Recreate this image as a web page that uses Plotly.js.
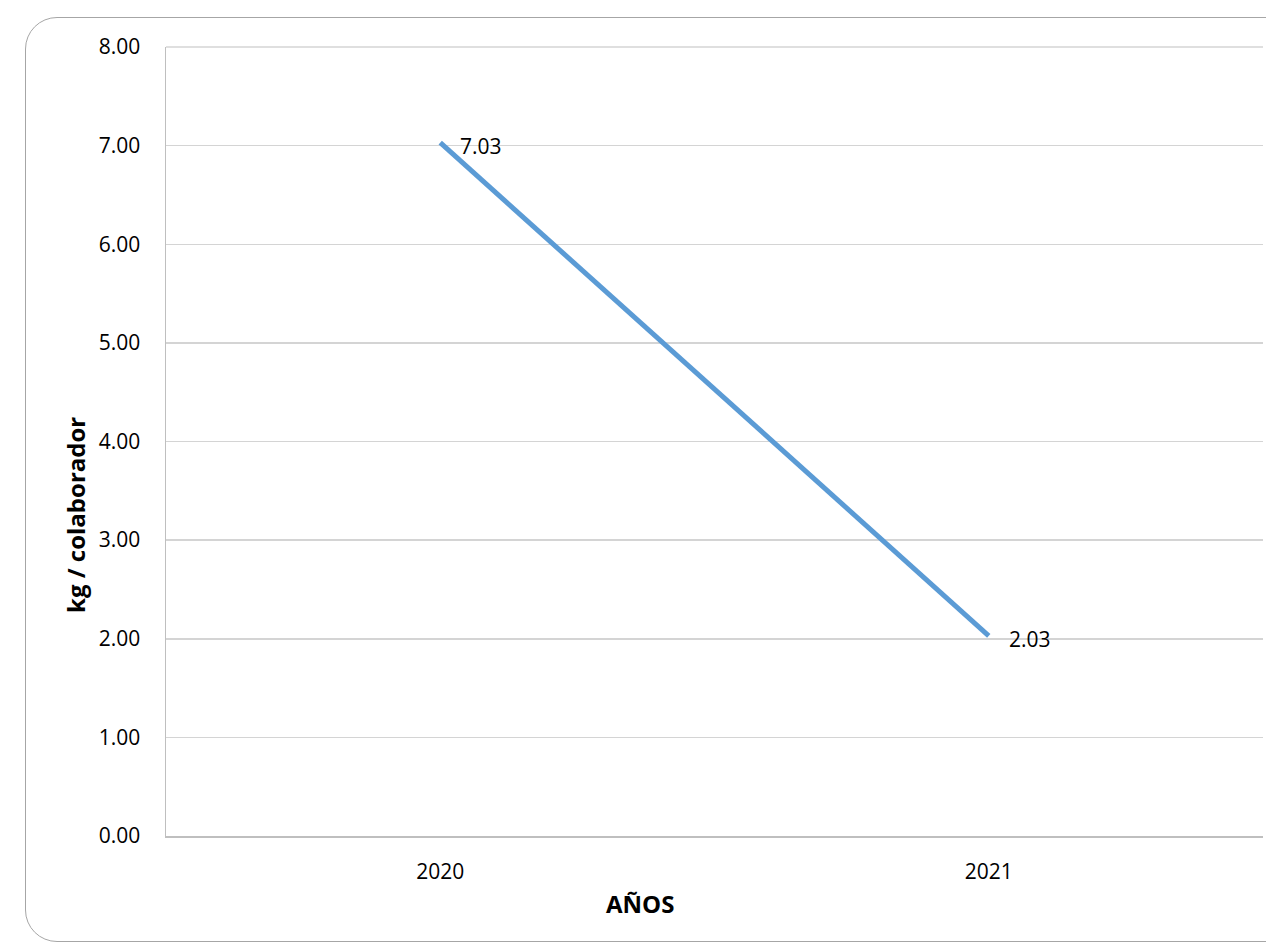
<!DOCTYPE html>
<html>
<head>
<meta charset="utf-8">
<script src="https://cdn.plot.ly/plotly-3.0.1.min.js"></script>
<style>
html,body{margin:0;padding:0;background:#fff;overflow:hidden;}
#frame{position:absolute;left:25px;top:17px;width:1300px;height:925px;border:1.5px solid #a6a6a6;border-radius:32px;box-sizing:border-box;}
#chart{position:absolute;left:0;top:0;width:1266px;height:944px;}
</style>
</head>
<body>
<div id="frame"></div>
<div id="chart"></div>
<script>
const years = ['2020', '2021'];
const kgPorColaborador = [7.03, 2.03];
const yTicks = [0, 1, 2, 3, 4, 5, 6, 7, 8];
const xTitle = 'AÑOS';
const yTitle = 'kg / colaborador';

const font = 'Open Sans, Liberation Sans, sans-serif';

const trace = {
  x: years,
  y: kgPorColaborador,
  type: 'scatter',
  mode: 'lines',
  line: {color: '#5b9bd5', width: 5},
  hoverinfo: 'skip'
};

const labelAnn = years.map((yr, i) => ({
  x: i, y: kgPorColaborador[i], xref: 'x', yref: 'y',
  text: kgPorColaborador[i].toFixed(2),
  showarrow: false, xanchor: 'left', yanchor: 'middle',
  xshift: 18, yshift: -3,
  font: {family: font, size: 21, color: '#000'}
}));

const layout = {
  width: 1266, height: 944,
  margin: {l: 166, r: 3, t: 47, b: 108},
  paper_bgcolor: 'rgba(0,0,0,0)',
  plot_bgcolor: 'rgba(0,0,0,0)',
  showlegend: false,
  xaxis: {
    type: 'category',
    range: [-0.5, 1.5],
    showgrid: false,
    showline: true, linecolor: '#bfbfbf', linewidth: 1.5,
    ticks: 'outside', ticklen: 16, tickcolor: 'rgba(0,0,0,0)',
    tickfont: {family: font, size: 21, color: '#000'},
    zeroline: false, fixedrange: true
  },
  yaxis: {
    range: [0, 8],
    tickvals: yTicks,
    ticktext: yTicks.map(v => v.toFixed(2)),
    showgrid: true, gridcolor: '#d4d4d4', gridwidth: 1.5,
    showline: true, linecolor: '#bfbfbf', linewidth: 1.5,
    ticks: 'outside', ticklen: 20, tickcolor: 'rgba(0,0,0,0)',
    tickfont: {family: font, size: 21, color: '#000'},
    zeroline: false, fixedrange: true
  },
  shapes: [
    {type: 'line', xref: 'paper', yref: 'paper', x0: 0, x1: 1, y0: 1, y1: 1,
     line: {color: '#d4d4d4', width: 1.5}}
  ],
  annotations: labelAnn.concat([
    {text: '<b>' + xTitle + '</b>', xref: 'paper', yref: 'paper',
     x: (640 - 166) / 1097, y: -(903 - 836) / 789, xanchor: 'center', yanchor: 'middle',
     showarrow: false, font: {family: font, size: 24, color: '#000'}},
    {text: '<b>' + yTitle + '</b>', xref: 'paper', yref: 'paper',
     x: -(166 - 75) / 1097, y: (836 - 515) / 789, xanchor: 'center', yanchor: 'middle',
     textangle: -90, showarrow: false, font: {family: font, size: 24, color: '#000'}}
  ])
};

Plotly.newPlot('chart', [trace], layout, {displayModeBar: false, staticPlot: true});
</script>
</body>
</html>
